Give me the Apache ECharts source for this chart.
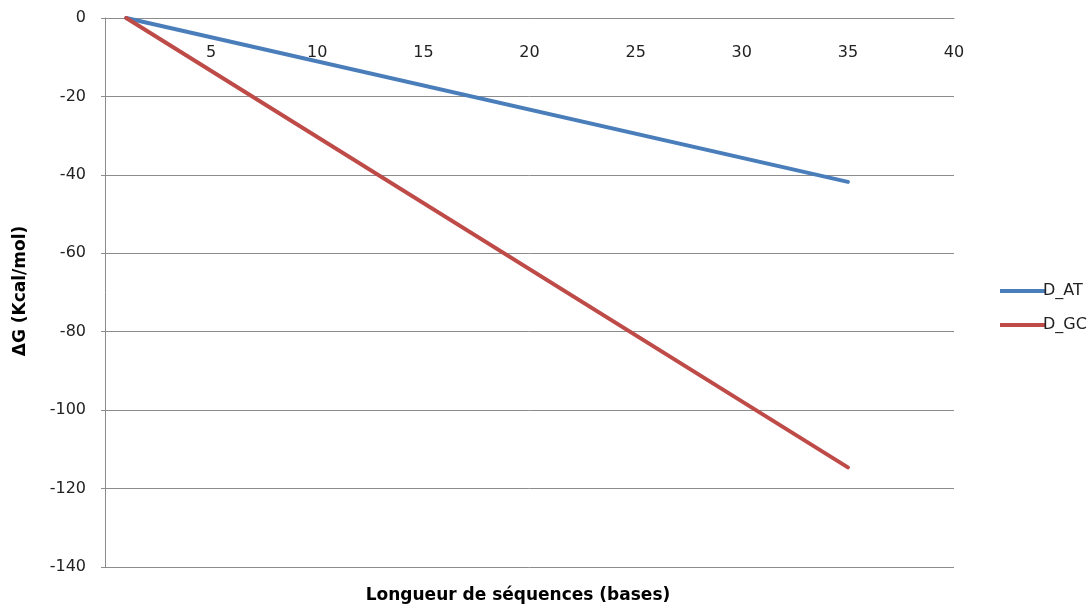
<!DOCTYPE html>
<html><head><meta charset="utf-8">
<script src="https://cdn.jsdelivr.net/npm/echarts@6/dist/echarts.min.js"></script>
<style>html,body{margin:0;padding:0;background:#fff}#c{width:1089px;height:608px}</style>
</head><body><div id="c"></div>
<script>
const xAT = [1, 35];
const yAT = [0, -41.8];
const xGC = [1, 35];
const yGC = [0, -114.6];
const seriesNames = ['D_AT', 'D_GC'];
const xTitle = 'Longueur de séquences (bases)';
const yTitle = 'ΔG (Kcal/mol)';

const chart = echarts.init(document.getElementById('c'));
const font = 'DejaVu Sans, sans-serif';
chart.setOption({
  animation: false,
  grid: {left: 105, right: 135, top: 18, bottom: 41},
  legend: {
    orient: 'vertical', left: 995, top: 278,
    itemWidth: 45, itemHeight: 4, itemGap: 18,
    icon: 'rect',
    textStyle: {fontFamily: font, fontSize: 16, color: '#222', padding: [0,0,0,-7]},
    data: seriesNames
  },
  xAxis: {
    type: 'value', min: 0, max: 40, interval: 5, position: 'top',
    axisLine: {show: true, onZero: false, lineStyle: {color: '#8c8c8c', width: 1}},
    axisTick: {show: false},
    splitLine: {show: false},
    axisLabel: {inside: true, margin: 27, showMinLabel: false, fontFamily: font, fontSize: 16, color: '#222'}
  },
  yAxis: {
    type: 'value', min: -140, max: 0, interval: 20,
    axisLine: {show: true, lineStyle: {color: '#8c8c8c', width: 1}},
    axisTick: {show: true, inside: false, length: 4, lineStyle: {color: '#8c8c8c'}},
    splitLine: {show: true, lineStyle: {color: '#8c8c8c', width: 1}},
    axisLabel: {margin: 19, fontFamily: font, fontSize: 16, color: '#222'}
  },
  graphic: [
    {type: 'text', x: 518, y: 596, z: 10,
     style: {text: xTitle, font: 'bold 17px DejaVu Sans, sans-serif', fill: '#000', align: 'center', verticalAlign: 'middle'}},
    {type: 'text', x: 21, y: 291, rotation: Math.PI/2, z: 10,
     style: {text: yTitle, font: 'bold 17px DejaVu Sans, sans-serif', fill: '#000', align: 'center', verticalAlign: 'middle'}}
  ],
  series: [
    {name: seriesNames[0], type: 'line', showSymbol: false, symbol: 'none',
     data: xAT.map((x,i)=>[x,yAT[i]]),
     lineStyle: {color: '#4a7ebb', width: 4, cap: 'round'}, itemStyle: {color: '#4a7ebb'}},
    {name: seriesNames[1], type: 'line', showSymbol: false, symbol: 'none',
     data: xGC.map((x,i)=>[x,yGC[i]]),
     lineStyle: {color: '#be4b48', width: 4, cap: 'round'}, itemStyle: {color: '#be4b48'}}
  ]
});
</script></body></html>
